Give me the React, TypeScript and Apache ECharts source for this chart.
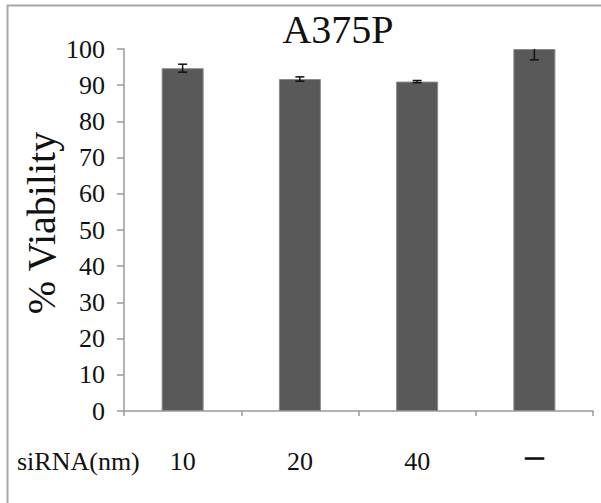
import React, { useEffect, useRef } from "react";
import * as echarts from "echarts";

const categories = ["10", "20", "40", "—"];
const viability = [94.7, 91.7, 91.0, 100];
const errors = [1.1, 0.6, 0.3, 3.0];
const yTicks = { min: 0, max: 100, interval: 10 };
const titleText = "A375P";
const yAxisTitle = "% Viability";
const xAxisTitle = "siRNA(nm)";

const FONT = "Liberation Serif";

export default function App() {
  const ref = useRef<HTMLDivElement>(null);
  useEffect(() => {
    if (!ref.current) return;
    const chart = echarts.init(ref.current, null, { renderer: "svg" });
    const errData = viability.map((v, i) => [i, v - errors[i], v + errors[i]]);
    chart.setOption({
      animation: false,
      backgroundColor: "#ffffff",
      textStyle: { fontFamily: FONT },
      grid: { left: 124, right: 8, top: 49, bottom: 92, containLabel: false },
      xAxis: {
        type: "category",
        data: categories,
        axisLine: { show: true, lineStyle: { color: "#9a9a9a", width: 1.5 } },
        axisTick: { show: true, length: 5, alignWithLabel: false, lineStyle: { color: "#9a9a9a", width: 1.5 } },
        axisLabel: {
          margin: 37,
          fontFamily: FONT,
          fontSize: 26,
          color: "#111",
          formatter: (v: string) => (v === "—" ? "{d|—}" : v),
          rich: {
            d: { fontFamily: FONT, fontSize: 18, fontWeight: "bold", color: "#111", textBorderColor: "#111", textBorderWidth: 1.2 },
          },
        },
        splitLine: { show: false },
      },
      yAxis: {
        type: "value",
        min: yTicks.min,
        max: yTicks.max,
        interval: yTicks.interval,
        axisLine: { show: true, lineStyle: { color: "#9a9a9a", width: 1.5 } },
        axisTick: { show: true, length: 7, lineStyle: { color: "#9a9a9a", width: 1.5 } },
        axisLabel: { margin: 19, fontFamily: FONT, fontSize: 26, color: "#111" },
        splitLine: { show: false },
      },
      series: [
        {
          type: "bar",
          data: viability,
          barWidth: 42,
          itemStyle: { color: "#595959", borderColor: "#8a8a8a", borderWidth: 1 },
        },
        {
          type: "custom",
          clip: true,
          data: errData,
          z: 10,
          renderItem: (params: any, api: any) => {
            const x = api.coord([api.value(0), api.value(1)])[0];
            const lo = api.coord([api.value(0), api.value(1)])[1];
            const hi = api.coord([api.value(0), api.value(2)])[1];
            const hw = 4.5;
            const style = { stroke: "#111", lineWidth: 1.5 };
            return {
              type: "group",
              children: [
                { type: "line", shape: { x1: x, y1: lo, x2: x, y2: hi }, style },
                { type: "line", shape: { x1: x - hw, y1: lo, x2: x + hw, y2: lo }, style },
                { type: "line", shape: { x1: x - hw, y1: hi, x2: x + hw, y2: hi }, style },
              ],
            };
          },
        },
      ],
      graphic: [
        {
          type: "rect",
          shape: { x: 7.5, y: 5.5, width: 640, height: 540 },
          style: { fill: "none", stroke: "#a8a8a8", lineWidth: 2 },
          silent: true,
        },
        {
          type: "text",
          x: 338,
          y: 29,
          style: { text: titleText, fontFamily: FONT, fontSize: 40, fill: "#111", textAlign: "center", textVerticalAlign: "middle" },
        },
        {
          type: "text",
          x: 41,
          y: 223,
          rotation: Math.PI / 2,
          style: { text: yAxisTitle, fontFamily: FONT, fontSize: 40, fill: "#111", textAlign: "center", textVerticalAlign: "middle" },
        },
        {
          type: "text",
          x: 17,
          y: 461,
          style: { text: xAxisTitle, fontFamily: FONT, fontSize: 26, fill: "#111", textAlign: "left", textVerticalAlign: "middle" },
        },
      ],
    });
    return () => chart.dispose();
  }, []);
  return <div ref={ref} style={{ width: 601, height: 503, position: "absolute", left: 0, top: 0 }} />;
}
